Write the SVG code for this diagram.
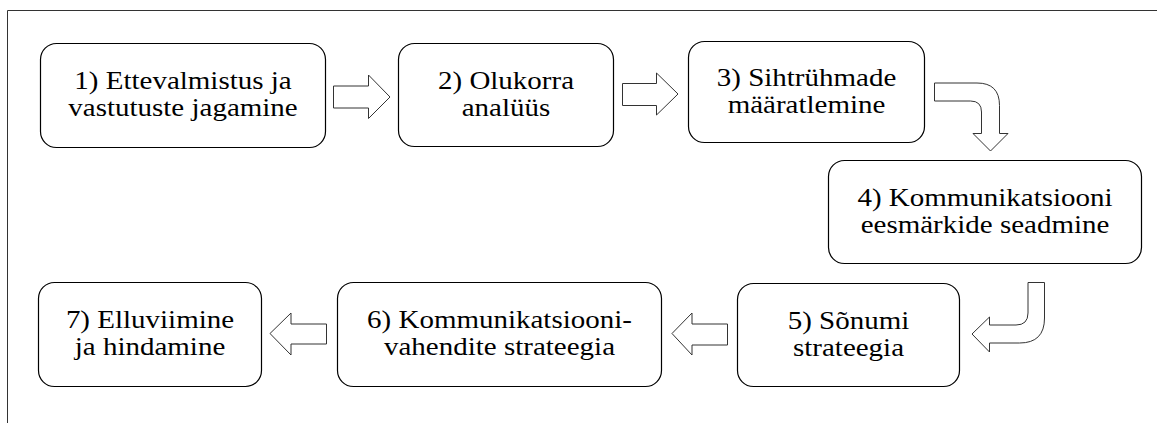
<svg xmlns="http://www.w3.org/2000/svg" width="1157" height="423" viewBox="0 0 1157 423">
  <style>
    .box { fill: #ffffff; stroke: #000000; stroke-width: 1.2; }
    .lbl { font-family: "Liberation Serif", "Times New Roman", serif; font-size: 25.5px; fill: #000000; text-anchor: middle; }
    .arr { fill: #ffffff; stroke: #333333; stroke-width: 1; stroke-linejoin: miter; }
    .frame { fill: none; stroke: #333333; stroke-width: 1; }
  </style>
  <rect width="1157" height="423" fill="#ffffff"/>
  <path class="frame" d="M7.5,423 V10.5 H1157"/>

  <g id="connectors">
    <path class="arr" d="M333.5,86 H368.5 V75 L390,97 L368.5,118.5 V108 H333.5 Z"/>
    <path class="arr" d="M622.5,83.5 H656.5 V73 L678,94 L656.5,115 V105.5 H622.5 Z"/>
    <path class="arr" d="M934.5,83 H977 Q999.5,83 999.5,105.5 V133.5 H1008 L990.5,151 L973,133.5 H981.5 V112 Q981.5,101 970.5,101 H934.5 Z"/>
    <path class="arr" d="M1028,282.5 H1044.5 V318 Q1044.5,343 1019.5,343 H989.5 V352 L972,334 L989.5,317 V325 H1016 Q1028,325 1028,313 Z"/>
    <path class="arr" d="M727.5,324 H692 V313 L672,333.5 L692,355 V345 H727.5 Z"/>
    <path class="arr" d="M326.5,324 H291 V313 L270,333.5 L291,355 V344 H326.5 Z"/>
  </g>

  <!-- labels use a slightly widened serif face -->
  <g id="node1">
    <rect class="box" x="40.5" y="43.5" width="285" height="104" rx="16"/>
    <text class="lbl" transform="translate(183,89) scale(1.137,1)">1) Ettevalmistus ja</text>
    <text class="lbl" transform="translate(183,116) scale(1.137,1)">vastutuste jagamine</text>
  </g>
  <g id="node2">
    <rect class="box" x="398.5" y="43.5" width="215" height="103" rx="16"/>
    <text class="lbl" transform="translate(506,88.5) scale(1.137,1)">2) Olukorra</text>
    <text class="lbl" transform="translate(506,115.5) scale(1.137,1)">analüüs</text>
  </g>
  <g id="node3">
    <rect class="box" x="688.5" y="41.5" width="236" height="101" rx="16"/>
    <text class="lbl" transform="translate(806.5,85.5) scale(1.137,1)">3) Sihtrühmade</text>
    <text class="lbl" transform="translate(806.5,112.5) scale(1.137,1)">määratlemine</text>
  </g>
  <g id="node4">
    <rect class="box" x="828.5" y="160.5" width="313" height="103" rx="16"/>
    <text class="lbl" transform="translate(985,205.5) scale(1.137,1)">4) Kommunikatsiooni</text>
    <text class="lbl" transform="translate(985,232.5) scale(1.137,1)">eesmärkide seadmine</text>
  </g>
  <g id="node5">
    <rect class="box" x="737.5" y="283.5" width="222" height="103" rx="16"/>
    <text class="lbl" transform="translate(848.5,328.5) scale(1.137,1)">5) Sõnumi</text>
    <text class="lbl" transform="translate(848.5,355.5) scale(1.137,1)">strateegia</text>
  </g>
  <g id="node6">
    <rect class="box" x="337.5" y="282.5" width="324" height="104" rx="16"/>
    <text class="lbl" transform="translate(499.5,328) scale(1.137,1)">6) Kommunikatsiooni-</text>
    <text class="lbl" transform="translate(499.5,355) scale(1.137,1)">vahendite strateegia</text>
  </g>
  <g id="node7">
    <rect class="box" x="38.5" y="282.5" width="223" height="104" rx="16"/>
    <text class="lbl" transform="translate(150,328) scale(1.137,1)">7) Elluviimine</text>
    <text class="lbl" transform="translate(150,355) scale(1.137,1)">ja hindamine</text>
  </g>
</svg>
